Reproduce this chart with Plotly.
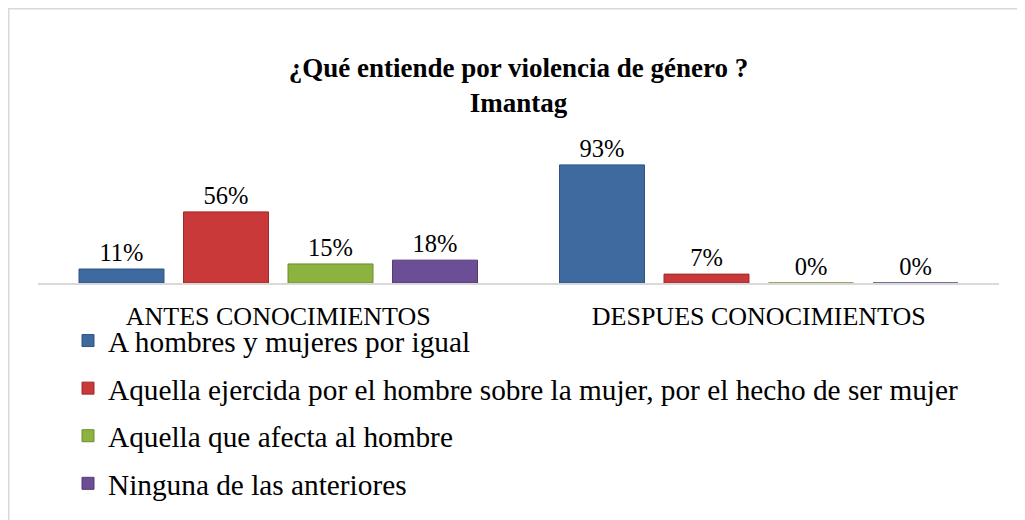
import plotly.graph_objects as go

categories = ["ANTES CONOCIMIENTOS", "DESPUES CONOCIMIENTOS"]
series_names = [
    "A hombres y mujeres por igual",
    "Aquella ejercida por el hombre sobre la mujer, por el hecho de ser mujer",
    "Aquella que afecta al hombre",
    "Ninguna de las anteriores",
]
igual_vals = [11, 93]
hombre_mujer_vals = [56, 7]
afecta_hombre_vals = [15, 0]
ninguna_vals = [18, 0]

series_values = [igual_vals, hombre_mujer_vals, afecta_hombre_vals, ninguna_vals]
colors = ["#3E6AA0", "#C9393A", "#8CB23F", "#6C4E96"]
edge_colors = ["#2F5280", "#9E2A2A", "#6E8C2E", "#523A75"]

FONT = "'Liberation Serif', 'Times New Roman', serif"

fig = go.Figure()
for i, (name, vals, c, ec) in enumerate(zip(series_names, series_values, colors, edge_colors)):
    fig.add_trace(go.Bar(
        x=categories,
        y=vals,
        name=name,
        legendgroup=f"g{i}",
        marker=dict(color=c, line=dict(color=ec, width=1)),
        text=[f"{v}%" for v in vals],
        textposition="outside",
        textfont=dict(family=FONT, size=24.5, color="#000000"),
        cliponaxis=False,
    ))

# The page body adds an 8px offset; figure pixel coordinates below account for it.
W, H = 1025, 520
plot_left, plot_right, plot_top, plot_bottom = 30, 991, 148, 275
ph = plot_bottom - plot_top
pw = plot_right - plot_left

fig.update_layout(
    width=W, height=H,
    margin=dict(l=plot_left, r=W - plot_right, t=plot_top, b=H - plot_bottom, pad=0,
                autoexpand=False),
    paper_bgcolor="white",
    plot_bgcolor="white",
    barmode="group",
    bargap=0.13,
    bargroupgap=0.187,
    font=dict(family=FONT, color="#000000"),
    title=dict(
        text="<b>¿Qué entiende por violencia de género ?<br>Imantag</b>",
        font=dict(family=FONT, size=27, color="#000000"),
        x=0.5, xref="paper", xanchor="center",
        y=1 - 69 / H, yref="container", yanchor="top",
    ),
    xaxis=dict(
        showline=True, linecolor="#D9D9D9", linewidth=2,
        showgrid=False, zeroline=False, ticks="",
        ticklabelstandoff=9,
        tickfont=dict(family=FONT, size=26, color="#000000"),
    ),
    yaxis=dict(
        range=[0, 100], visible=False, showgrid=False, zeroline=False,
    ),
    showlegend=True,
    legend=dict(
        orientation="v",
        xref="container", yref="container",
        x=60 / W, xanchor="left",
        y=1 - 307 / H, yanchor="top",
        font=dict(family=FONT, size=29.3, color="#000000"),
        bgcolor="rgba(0,0,0,0)",
        traceorder="grouped",
        tracegroupgap=6.5,
    ),
    shapes=[dict(
        type="rect", xref="paper", yref="paper",
        x0=(0.75 - plot_left) / pw, x1=(1060 - plot_left) / pw,
        y0=(plot_bottom - 560) / ph, y1=(plot_bottom - 0.75) / ph,
        line=dict(color="#D9D9D9", width=1.5),
        fillcolor="rgba(0,0,0,0)",
        layer="below",
    )],
)

fig.write_html("out.html")
